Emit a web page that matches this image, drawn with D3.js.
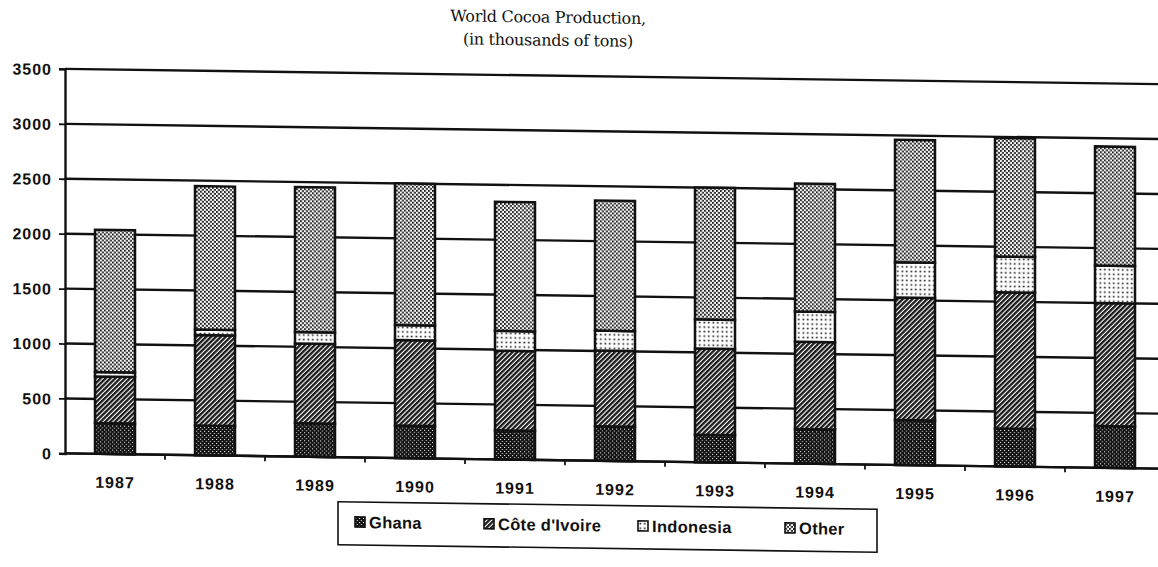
<!DOCTYPE html>
<html>
<head>
<meta charset="utf-8">
<script src="https://cdn.jsdelivr.net/npm/d3@7"></script>
<style>
  body { margin: 0; background: #fff; }
  svg { display: block; }
  .lbl { font-family: "Liberation Sans", Arial, sans-serif; font-weight: bold; font-size: 16px; letter-spacing: 1px; fill: #111; }
  .leg { font-family: "Liberation Sans", Arial, sans-serif; font-weight: bold; font-size: 16.5px; letter-spacing: 0.3px; fill: #111; }
  .title { font-family: "DejaVu Serif", serif; font-size: 16px; letter-spacing: -0.3px; fill: #111; }
</style>
</head>
<body>
<svg id="chart" width="1158" height="567"></svg>
<script>
// World cocoa production, thousands of tons
const years = ["1987", "1988", "1989", "1990", "1991", "1992", "1993", "1994", "1995", "1996", "1997"];
const ghana = [280, 270, 305, 295, 265, 315, 250, 315, 410, 345, 380];
const coteDIvoire = [425, 825, 725, 780, 725, 690, 785, 795, 1115, 1240, 1120];
const indonesia = [40, 50, 105, 135, 180, 180, 265, 275, 320, 325, 340];
const other = [1295, 1305, 1320, 1290, 1175, 1185, 1200, 1165, 1115, 1080, 1085];
const seriesNames = ["Ghana", "Côte d'Ivoire", "Indonesia", "Other"];
const yTicks = [0, 500, 1000, 1500, 2000, 2500, 3000, 3500];

const rows = years.map((y, i) => ({
  year: y,
  "Ghana": ghana[i],
  "Côte d'Ivoire": coteDIvoire[i],
  "Indonesia": indonesia[i],
  "Other": other[i]
}));

const svg = d3.select("#chart");
const defs = svg.append("defs");

// monochrome fill patterns, one per series
const pGhana = defs.append("pattern").attr("id", "p-ghana")
  .attr("patternUnits", "userSpaceOnUse").attr("width", 4).attr("height", 4);
pGhana.append("rect").attr("width", 4).attr("height", 4).attr("fill", "#111");
pGhana.append("rect").attr("x", 0).attr("y", 0).attr("width", 1).attr("height", 1).attr("fill", "#fff");
pGhana.append("rect").attr("x", 2).attr("y", 2).attr("width", 1).attr("height", 1).attr("fill", "#fff");

const pCote = defs.append("pattern").attr("id", "p-cote")
  .attr("patternUnits", "userSpaceOnUse").attr("width", 3.4).attr("height", 3.4)
  .attr("patternTransform", "rotate(45)");
pCote.append("rect").attr("width", 3.4).attr("height", 3.4).attr("fill", "#fff");
pCote.append("rect").attr("width", 2.3).attr("height", 3.4).attr("fill", "#1a1a1a");

const pIndo = defs.append("pattern").attr("id", "p-indo")
  .attr("patternUnits", "userSpaceOnUse").attr("width", 4.5).attr("height", 4.5);
pIndo.append("rect").attr("width", 4.5).attr("height", 4.5).attr("fill", "#fff");
pIndo.append("rect").attr("x", 1.5).attr("y", 1.5).attr("width", 1.6).attr("height", 1.6).attr("fill", "#111");

const pOther = defs.append("pattern").attr("id", "p-other")
  .attr("patternUnits", "userSpaceOnUse").attr("width", 4).attr("height", 4);
pOther.append("rect").attr("width", 4).attr("height", 4).attr("fill", "#fff");
pOther.append("rect").attr("x", 0).attr("y", 0).attr("width", 1.9).attr("height", 1.9).attr("fill", "#1a1a1a");
pOther.append("rect").attr("x", 2).attr("y", 2).attr("width", 1.9).attr("height", 1.9).attr("fill", "#1a1a1a");

const fills = d3.scaleOrdinal()
  .domain(seriesNames)
  .range(["url(#p-ghana)", "url(#p-cote)", "url(#p-indo)", "url(#p-other)"]);

// the printed page sits slightly skewed
const skew = 0.0139;
const root = svg.append("g").attr("transform", `matrix(1,${skew},0,1,0,0)`);

const plotLeft = 65, plotRight = 1165, plotTop = 68, plotBottom = 452.5;

const x = d3.scaleBand().domain(years).range([plotLeft, plotRight]).paddingInner(0.6).paddingOuter(0.3);
const y = d3.scaleLinear().domain([0, 3500]).range([plotBottom, plotTop]);

// title
root.append("text").attr("class", "title").attr("x", 548).attr("y", 15)
  .attr("text-anchor", "middle").text("World Cocoa Production,");
root.append("text").attr("class", "title").attr("x", 548).attr("y", 38)
  .attr("text-anchor", "middle").text("(in thousands of tons)");

// horizontal gridlines
root.append("g").selectAll("line").data(yTicks).join("line")
  .attr("x1", plotLeft).attr("x2", plotRight)
  .attr("y1", d => y(d)).attr("y2", d => y(d))
  .attr("stroke", "#111").attr("stroke-width", 2.4);

// y axis
const yAxis = root.append("g").attr("transform", `translate(${plotLeft},0)`)
  .call(d3.axisLeft(y).tickValues(yTicks).tickSize(6).tickPadding(7).tickFormat(d3.format("d")));
yAxis.attr("font-size", null).attr("font-family", null);
yAxis.select(".domain").attr("stroke", "#111").attr("stroke-width", 2.4);
yAxis.selectAll(".tick line").attr("stroke", "#111").attr("stroke-width", 1.8);
yAxis.selectAll(".tick text").attr("class", "lbl").attr("dy", "0.36em");

// x axis: ticks sit between categories
const xAxisG = root.append("g").attr("transform", `translate(0,${plotBottom})`);
xAxisG.append("line").attr("x1", plotLeft).attr("x2", plotRight).attr("stroke", "#111").attr("stroke-width", 2.4);
const step = x.step();
xAxisG.selectAll("line.sep").data(years).join("line").attr("class", "sep")
  .attr("x1", d => x(d) - x.paddingOuter() * step + step)
  .attr("x2", d => x(d) - x.paddingOuter() * step + step)
  .attr("y1", 0).attr("y2", 5).attr("stroke", "#111").attr("stroke-width", 1.8);
xAxisG.selectAll("text").data(years).join("text").attr("class", "lbl")
  .attr("x", d => x(d) + x.bandwidth() / 2).attr("y", 34)
  .attr("text-anchor", "middle").text(d => d);

// stacked bars
const stacked = d3.stack().keys(seriesNames)(rows);
root.append("g").selectAll("g").data(stacked).join("g")
  .attr("fill", d => fills(d.key))
  .selectAll("rect").data(d => d).join("rect")
  .attr("x", d => x(d.data.year))
  .attr("width", x.bandwidth())
  .attr("y", d => y(d[1]))
  .attr("height", d => y(d[0]) - y(d[1]))
  .attr("stroke", "#111").attr("stroke-width", 2.5);

// legend
const legend = root.append("g");
legend.append("rect").attr("x", 338).attr("y", 497).attr("width", 539).attr("height", 43)
  .attr("fill", "none").attr("stroke", "#111").attr("stroke-width", 1.6);
const legendX = [355, 484, 638, 785];
const items = legend.selectAll("g.item").data(seriesNames).join("g").attr("class", "item")
  .attr("transform", (d, i) => `translate(${legendX[i]},517)`);
items.append("rect").attr("x", 0).attr("y", -5).attr("width", 10).attr("height", 10)
  .attr("fill", d => fills(d)).attr("stroke", "#111").attr("stroke-width", 1.6);
items.append("text").attr("class", "leg").attr("x", 14).attr("y", 6).text(d => d);
</script>
</body>
</html>
